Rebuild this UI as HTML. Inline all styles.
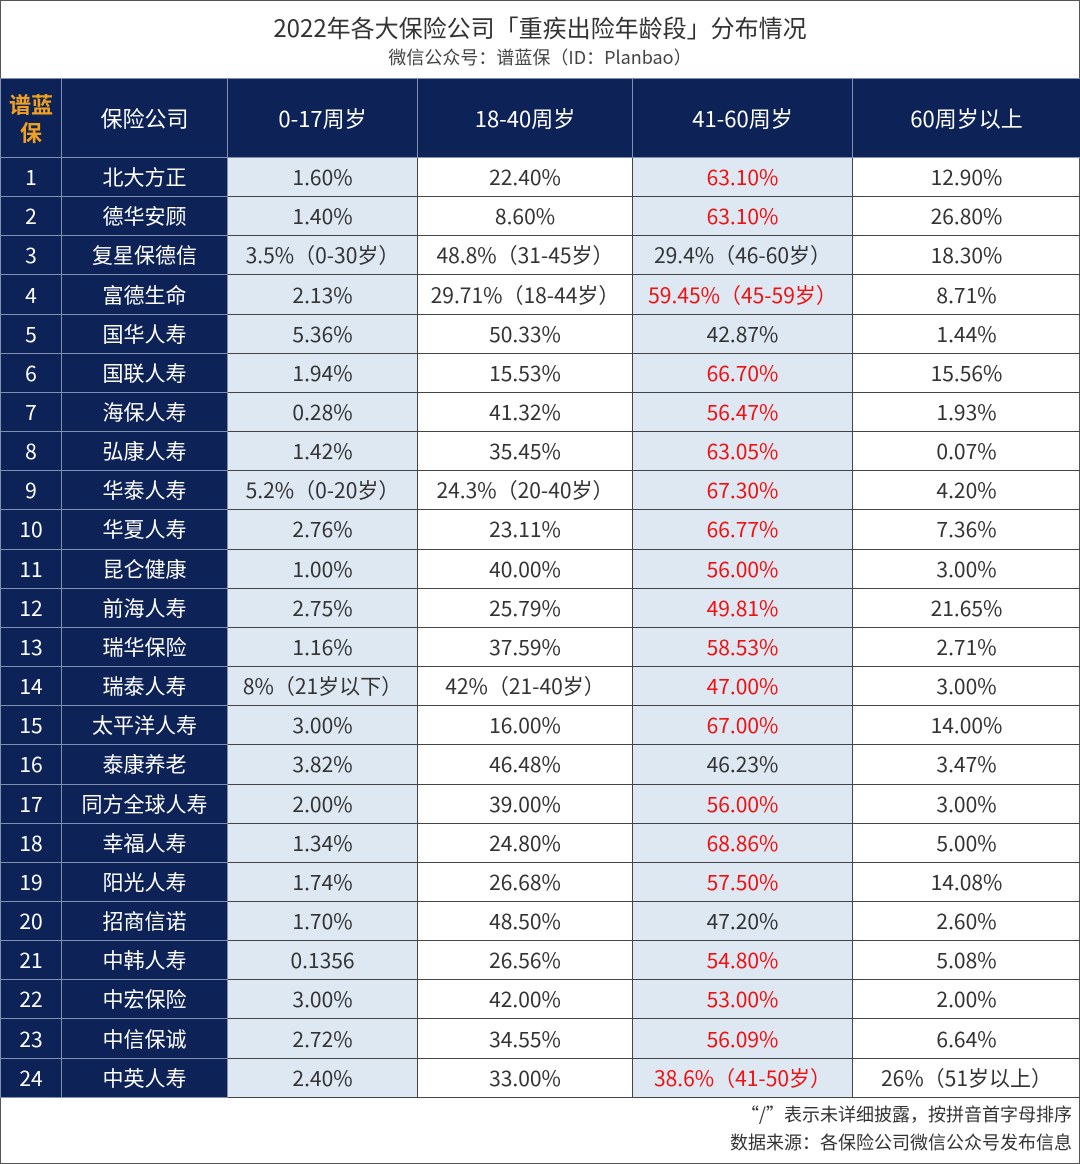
<!DOCTYPE html>
<html><head><meta charset="utf-8"><style>
body{margin:0;width:1080px;height:1164px;background:#fff;font-family:"Noto Sans CJK SC",sans-serif;position:relative;overflow:hidden}
.frame{position:absolute;left:0;top:0;width:1078px;height:1162px;border:1px solid #555}
.t1{position:absolute;top:10px;left:0;width:1080px;text-align:center;font-size:24px;line-height:34px;color:#333}
.t2{position:absolute;top:44px;left:0;width:1080px;text-align:center;font-size:18px;line-height:26px;color:#444}
table{position:absolute;left:0;top:78px;border-collapse:collapse;table-layout:fixed;width:1080px}
td{border:1px solid #444;text-align:center;font-size:21px;line-height:26px;color:#333;padding:0;height:38.17px;white-space:nowrap;vertical-align:middle}
tr.h td{height:78px;background:#0d2257;color:#fff;font-size:22px;border-color:#8090b0}
td.n{background:#0d2257;color:#fff;border-color:#8090b0}
td.b{background:#dde8f3}
td.r{color:#f01010}
.o{color:#f0a020 !important;font-weight:bold;line-height:28px !important}
.f{position:absolute;right:8px;font-size:18px;line-height:26px;color:#333}
</style></head><body>
<div class="frame"></div>
<div class="t1">2022年各大保险公司「重疾出险年龄段」分布情况</div>
<div class="t2">微信公众号：谱蓝保（ID：Planbao）</div>
<table>
<colgroup><col style="width:61px"><col style="width:166px"><col style="width:190px"><col style="width:215px"><col style="width:220px"><col style="width:228px"></colgroup>
<tr class="h"><td class="o">谱蓝<br>保</td><td>保险公司</td><td>0-17周岁</td><td>18-40周岁</td><td>41-60周岁</td><td>60周岁以上</td></tr>
<tr><td class="n">1</td><td class="n">北大方正</td><td class="b">1.60%</td><td>22.40%</td><td class="b r">63.10%</td><td>12.90%</td></tr>
<tr><td class="n">2</td><td class="n">德华安顾</td><td class="b">1.40%</td><td>8.60%</td><td class="b r">63.10%</td><td>26.80%</td></tr>
<tr><td class="n">3</td><td class="n">复星保德信</td><td class="b">3.5%（0-30岁）</td><td>48.8%（31-45岁）</td><td class="b">29.4%（46-60岁）</td><td>18.30%</td></tr>
<tr><td class="n">4</td><td class="n">富德生命</td><td class="b">2.13%</td><td>29.71%（18-44岁）</td><td class="b r">59.45%（45-59岁）</td><td>8.71%</td></tr>
<tr><td class="n">5</td><td class="n">国华人寿</td><td class="b">5.36%</td><td>50.33%</td><td class="b">42.87%</td><td>1.44%</td></tr>
<tr><td class="n">6</td><td class="n">国联人寿</td><td class="b">1.94%</td><td>15.53%</td><td class="b r">66.70%</td><td>15.56%</td></tr>
<tr><td class="n">7</td><td class="n">海保人寿</td><td class="b">0.28%</td><td>41.32%</td><td class="b r">56.47%</td><td>1.93%</td></tr>
<tr><td class="n">8</td><td class="n">弘康人寿</td><td class="b">1.42%</td><td>35.45%</td><td class="b r">63.05%</td><td>0.07%</td></tr>
<tr><td class="n">9</td><td class="n">华泰人寿</td><td class="b">5.2%（0-20岁）</td><td>24.3%（20-40岁）</td><td class="b r">67.30%</td><td>4.20%</td></tr>
<tr><td class="n">10</td><td class="n">华夏人寿</td><td class="b">2.76%</td><td>23.11%</td><td class="b r">66.77%</td><td>7.36%</td></tr>
<tr><td class="n">11</td><td class="n">昆仑健康</td><td class="b">1.00%</td><td>40.00%</td><td class="b r">56.00%</td><td>3.00%</td></tr>
<tr><td class="n">12</td><td class="n">前海人寿</td><td class="b">2.75%</td><td>25.79%</td><td class="b r">49.81%</td><td>21.65%</td></tr>
<tr><td class="n">13</td><td class="n">瑞华保险</td><td class="b">1.16%</td><td>37.59%</td><td class="b r">58.53%</td><td>2.71%</td></tr>
<tr><td class="n">14</td><td class="n">瑞泰人寿</td><td class="b">8%（21岁以下）</td><td>42%（21-40岁）</td><td class="b r">47.00%</td><td>3.00%</td></tr>
<tr><td class="n">15</td><td class="n">太平洋人寿</td><td class="b">3.00%</td><td>16.00%</td><td class="b r">67.00%</td><td>14.00%</td></tr>
<tr><td class="n">16</td><td class="n">泰康养老</td><td class="b">3.82%</td><td>46.48%</td><td class="b">46.23%</td><td>3.47%</td></tr>
<tr><td class="n">17</td><td class="n">同方全球人寿</td><td class="b">2.00%</td><td>39.00%</td><td class="b r">56.00%</td><td>3.00%</td></tr>
<tr><td class="n">18</td><td class="n">幸福人寿</td><td class="b">1.34%</td><td>24.80%</td><td class="b r">68.86%</td><td>5.00%</td></tr>
<tr><td class="n">19</td><td class="n">阳光人寿</td><td class="b">1.74%</td><td>26.68%</td><td class="b r">57.50%</td><td>14.08%</td></tr>
<tr><td class="n">20</td><td class="n">招商信诺</td><td class="b">1.70%</td><td>48.50%</td><td class="b">47.20%</td><td>2.60%</td></tr>
<tr><td class="n">21</td><td class="n">中韩人寿</td><td class="b">0.1356</td><td>26.56%</td><td class="b r">54.80%</td><td>5.08%</td></tr>
<tr><td class="n">22</td><td class="n">中宏保险</td><td class="b">3.00%</td><td>42.00%</td><td class="b r">53.00%</td><td>2.00%</td></tr>
<tr><td class="n">23</td><td class="n">中信保诚</td><td class="b">2.72%</td><td>34.55%</td><td class="b r">56.09%</td><td>6.64%</td></tr>
<tr><td class="n">24</td><td class="n">中英人寿</td><td class="b">2.40%</td><td>33.00%</td><td class="b r">38.6%（41-50岁）</td><td>26%（51岁以上）</td></tr>
</table>
<div class="f" style="top:1101px">“/”表示未详细披露，按拼音首字母排序</div>
<div class="f" style="top:1129px">数据来源：各保险公司微信公众号发布信息</div>
</body></html>
